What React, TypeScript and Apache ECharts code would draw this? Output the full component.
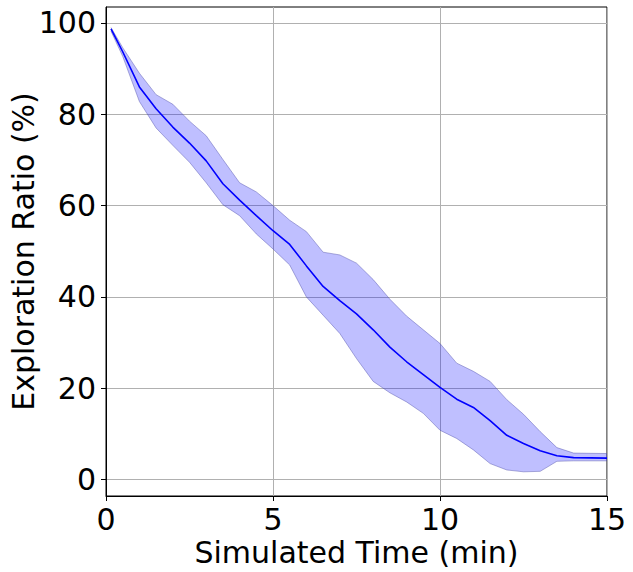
import React, { useEffect, useRef } from "react";
import * as echarts from "echarts";

const times = [0.15, 0.5, 1.0, 1.5, 2.0, 2.5, 3.0, 3.5, 4.0, 4.5, 5.0, 5.5, 6.0, 6.5, 7.0, 7.5, 8.0, 8.5, 9.0, 9.5, 10.0, 10.5, 11.0, 11.5, 12.0, 12.5, 13.0, 13.5, 14.0, 15.0];
const meanValues = [98.7, 93.7, 86.0, 81.2, 77.2, 73.7, 69.8, 64.8, 61.2, 57.8, 54.5, 51.5, 46.8, 42.3, 39.2, 36.3, 32.8, 29.0, 25.8, 23.0, 20.2, 17.6, 15.8, 12.9, 9.7, 7.9, 6.3, 5.2, 4.8, 4.7];
const lowerValues = [98.2, 92.7, 82.8, 77.0, 73.2, 69.5, 65.0, 60.2, 57.8, 53.8, 50.5, 47.0, 40.0, 36.0, 32.0, 26.5, 21.5, 19.0, 17.0, 14.5, 10.8, 9.0, 6.5, 3.5, 2.1, 1.7, 1.8, 4.0, 4.1, 4.1];
const upperValues = [99.0, 94.6, 89.0, 84.3, 82.2, 78.5, 75.3, 70.1, 65.0, 63.0, 60.0, 56.8, 54.3, 49.8, 49.2, 47.4, 43.8, 39.5, 35.8, 32.8, 29.8, 25.5, 23.7, 21.5, 17.5, 14.3, 10.5, 7.0, 5.8, 5.7];
const xTicks = [0, 5, 10, 15];
const yTicks = [0, 20, 40, 60, 80, 100];

const FONT = "DejaVu Sans";

export default function App() {
  const ref = useRef<HTMLDivElement>(null);
  useEffect(() => {
    if (!ref.current) return;
    const chart = echarts.init(ref.current, undefined, { renderer: "svg" });
    const bandData = times.map((t, i) => [t, lowerValues[i], upperValues[i]]);
    const lowerData = times.map((t, i) => [t, lowerValues[i]]);
    const upperData = times.map((t, i) => [t, upperValues[i]]);
    const meanData = times.map((t, i) => [t, meanValues[i]]);
    const edgeColor = "rgba(80,80,170,0.45)";
    chart.setOption({
      animation: false,
      backgroundColor: "#ffffff",
      grid: {
        left: 106,
        right: 26,
        top: 7,
        bottom: 76,
        show: true,
        borderColor: "#000",
        borderWidth: 1,
        backgroundColor: "transparent",
        containLabel: false,
        outerBoundsMode: "none",
      },
      xAxis: {
        type: "value",
        min: 0,
        max: 15,
        interval: 5,
        name: "Simulated Time (min)",
        nameLocation: "middle",
        nameGap: 41,
        nameMoveOverlap: false,
        nameTextStyle: { fontFamily: FONT, fontSize: 30, color: "#000" },
        axisLine: { show: true, onZero: false, lineStyle: { color: "#000", width: 1 } },
        axisTick: { show: true, length: 5, lineStyle: { color: "#000" }, customValues: xTicks },
        axisLabel: { fontFamily: FONT, fontSize: 30, color: "#000", margin: 8, customValues: xTicks },
        splitLine: { show: true, lineStyle: { color: "#b0b0b0", width: 1 } },
      },
      yAxis: {
        type: "value",
        min: -3.6,
        max: 103.5,
        splitNumber: 5,
        name: "Exploration Ratio (%)",
        nameLocation: "middle",
        nameGap: 68,
        nameMoveOverlap: false,
        nameTextStyle: { fontFamily: FONT, fontSize: 30, color: "#000" },
        axisLine: { show: true, onZero: false, lineStyle: { color: "#000", width: 1 } },
        axisTick: { show: true, length: 5, lineStyle: { color: "#000" }, customValues: yTicks },
        axisLabel: {
          fontFamily: FONT,
          fontSize: 30,
          color: "#000",
          margin: 10,
          customValues: yTicks,
        },
        splitLine: { show: true, lineStyle: { color: "#b0b0b0", width: 1 } },
      },
      series: [
        {
          name: "band",
          type: "custom",
          data: bandData,
          silent: true,
          z: 2,
          renderItem: (params: any, api: any) => {
            if (params.dataIndex !== 0) return null;
            const pts: number[][] = [];
            for (let i = 0; i < bandData.length; i++) {
              pts.push(api.coord([bandData[i][0], bandData[i][2]]));
            }
            for (let i = bandData.length - 1; i >= 0; i--) {
              pts.push(api.coord([bandData[i][0], bandData[i][1]]));
            }
            return {
              type: "polygon",
              shape: { points: pts },
              style: { fill: "rgba(0,0,255,0.25)", stroke: "none" },
            };
          },
          encode: { x: 0, y: [1, 2] },
        },
        {
          name: "lower",
          type: "line",
          data: lowerData,
          symbol: "none",
          lineStyle: { color: edgeColor, width: 1 },
          silent: true,
          z: 2,
        },
        {
          name: "upper",
          type: "line",
          data: upperData,
          symbol: "none",
          lineStyle: { color: edgeColor, width: 1 },
          silent: true,
          z: 2,
        },
        {
          name: "mean",
          type: "line",
          data: meanData,
          symbol: "none",
          lineStyle: { color: "#0000ff", width: 1.6 },
          z: 3,
        },
      ],
    });
    return () => chart.dispose();
  }, []);
  return <div ref={ref} style={{ width: 633, height: 572, position: "absolute", left: 0, top: 0 }} />;
}
